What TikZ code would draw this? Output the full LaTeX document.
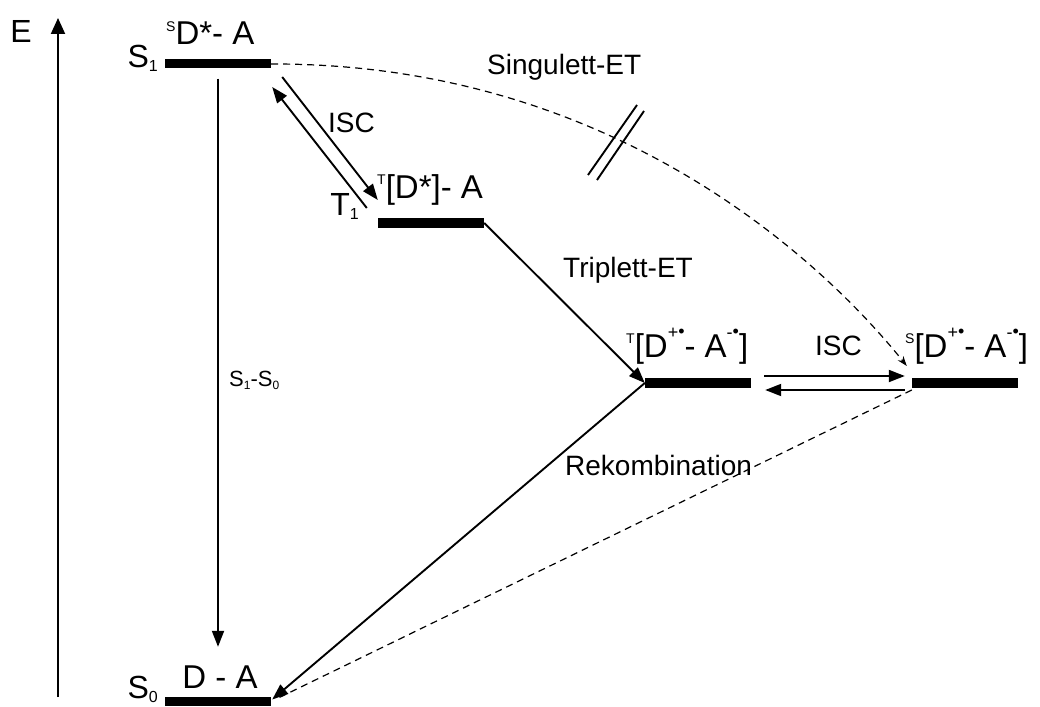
\documentclass[tikz,border=0pt]{standalone}
\usepackage{fontspec}
\setmainfont{Liberation Sans}
\usetikzlibrary{arrows.meta,calc}
\newcommand\hi[1]{\raisebox{13.5pt}{\fontsize{14}{14}\selectfont #1}}
\newcommand\rad[1]{\raisebox{19pt}{\fontsize{18}{18}\selectfont #1}}
\newcommand\dotr{\raisebox{0.5pt}{•}}
\newcommand\lo[1]{\raisebox{-4pt}{\fontsize{16}{16}\selectfont #1}}
\begin{document}
\begin{tikzpicture}[x=1pt,y=-1pt,
  bar/.style={fill=black,draw=none,inner sep=0pt,minimum width=106pt,minimum height=9pt},
  statelbl/.style={font=\fontsize{33}{38}\selectfont,inner sep=0pt},
  namelbl/.style={font=\fontsize{32}{36}\selectfont,inner sep=0pt},
  proclbl/.style={font=\fontsize{28}{32}\selectfont,inner sep=0pt},
  arr/.style={line width=1.9pt,-{Triangle[length=16pt,width=12pt]}},
  dashline/.style={line width=1.2pt,dash pattern=on 7pt off 5pt},
  every node/.style={text=black}]
\useasboundingbox (0,0) rectangle (1040,706);
% energy axis
\coordinate (ebot) at (58,697);
\coordinate (etop) at (58,18);
\draw[line width=1.9pt,-{Triangle[length=16pt,width=14pt]}] (ebot) -- (etop);
\node[font=\fontsize{32}{36}\selectfont,inner sep=0pt,anchor=base] (E) at (21,43) {E};
% levels
\node[bar] (s1) at (218,64) {};
\node[bar] (s0) at (218,701.5) {};
\node[bar,minimum height=10pt] (t1) at (431,223) {};
\node[bar,minimum height=10pt] (tct) at (698,383) {};
\node[bar,minimum height=10pt] (sct) at (965,383) {};
% state labels
\node[namelbl,anchor=base east] (s1n) at (158,68) {S\lo{1}};
\node[statelbl,anchor=base west] (s1t) at (166,45) {\hi{S}D*- A};
\node[namelbl,anchor=base east] (t1n) at (359,215) {T\lo{1}};
\node[statelbl,anchor=base west] (t1t) at (377,198) {\hi{T}[D*]- A};
\node[statelbl,anchor=base west] (tctt) at (626,357) {\hi{T}[D\rad{+\dotr}- A\rad{-\dotr}]};
\node[statelbl,anchor=base west] (sctt) at (905,357) {\hi{S}[D\rad{+\dotr}- A\rad{-\dotr}]};
\node[namelbl,anchor=base east] (s0n) at (158,698) {S\lo{0}};
\node[statelbl,anchor=base] (s0t) at (220,688) {D - A};
% process labels
\node[proclbl,anchor=base west] (isc1) at (328,132) {ISC};
\node[proclbl,anchor=base west] (isc2) at (815,355) {ISC};
\node[proclbl,anchor=base west] (sing) at (487,75) {Singulett-ET};
\node[proclbl,anchor=base west] (trip) at (563,277) {Triplett-ET};
\node[proclbl,anchor=base west] (rek) at (565,475) {Rekombination};
\node[font=\fontsize{22}{26}\selectfont,inner sep=0pt,anchor=base west] (s1s0) at (229,386) {S\raisebox{-3pt}{\fontsize{12}{12}\selectfont 1}-S\raisebox{-3pt}{\fontsize{12}{12}\selectfont 0}};
% S1 -> S0
\draw[arr] ($(s1.south)+(0,10)$) -- ($(s0.north)+(0,-50)$);
% ISC S1 <-> T1
\draw[arr] ($(t1.west)+(-11,-15)$) -- ($(s1.east)+(1,23)$);
\draw[arr] ($(s1.east)+(11,13)$) -- ($(t1.west)+(0,-23)$);
% Triplett-ET
\draw[arr] (t1.east) -- (tct.west);
% ISC T <-> S
\draw[arr] ($(tct.east)+(13,-7)$) -- ($(sct.west)+(-7,-7)$);
\draw[arr] ($(sct.west)+(-7,7)$) -- ($(tct.east)+(14,7)$);
% Rekombination
\draw[arr] (tct.west) -- ($(s0.east)+(1,-2)$);
\draw[dashline] ($(sct.west)+(0,7)$) -- ($(s0.east)+(4,-2)$);
% Singulett-ET
\draw[dashline,-{Stealth[length=10pt,width=7pt]}] (s1.east) .. controls (620,63) and (830,270) .. ($(sct.west)+(-5,-17)$);
\draw[line width=1.9pt] (588,175) -- (637,105);
\draw[line width=1.9pt] (597,180) -- (644,111);
\end{tikzpicture}
\end{document}
